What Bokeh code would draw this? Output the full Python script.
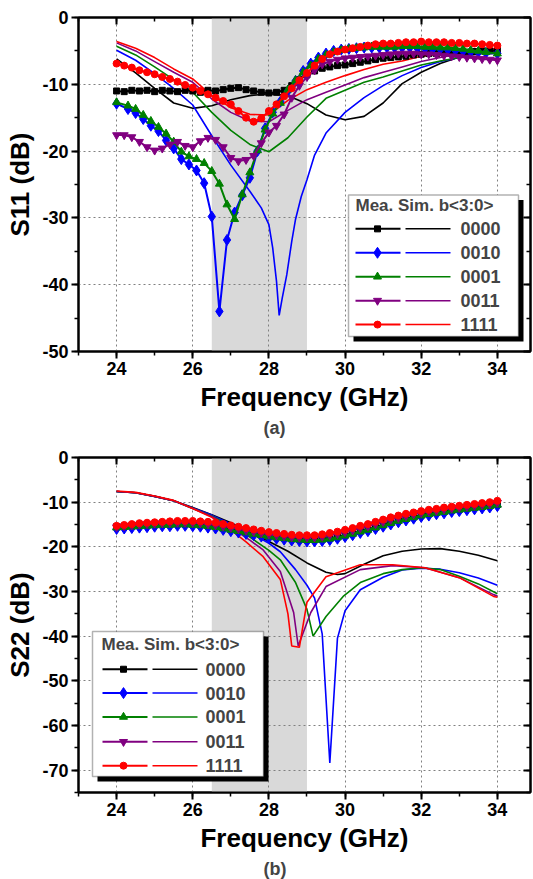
import numpy as np
from bokeh.plotting import figure
from bokeh.models import (LinearAxis, SingleIntervalTicker, BoxAnnotation, Label,
                          Title, Range1d, NumeralTickFormatter)
from bokeh.layouts import column
from bokeh.embed import file_html
from bokeh.resources import INLINE

FONT = "Liberation Sans"

# ---------------- data ----------------
CODES = ["0000", "0010", "0001", "0011", "1111"]

F_MEAS = [round(24.0 + 0.2 * i, 1) for i in range(51)]
F_ODD = [24.0] + [round(24.3 + 0.2 * i, 1) for i in range(48)] + [34.0]

# S11 measured
S11_MEAS_0000 = [-11.0, -11.1, -10.9, -11.0, -10.9, -11.1, -10.9, -11.0, -11.1, -10.9,
                 -11.0, -11.2, -10.9, -11.0, -10.8, -10.6, -10.5, -10.8, -11.0, -11.2,
                 -11.3, -11.2, -10.9, -10.2, -9.3, -8.6, -8.0, -7.6, -7.4, -7.2,
                 -7.1, -6.9, -6.7, -6.5, -6.3, -6.1, -6.0, -5.9, -5.8, -5.6,
                 -5.5, -5.4, -5.4, -5.3, -5.3, -5.2, -5.2, -5.1, -5.0, -5.0,
                 -4.9]
S11_MEAS_0010 = [-12.9,
                 -13.7, -14.3, -15.2, -16.2, -17.0, -18.4, -19.6, -21.2, -22.0, -22.9,
                 -24.8, -29.8, -44.0, -33.3, -29.2, -26.6, -24.0, -20.0, -16.6, -14.2,
                 -12.6, -11.0, -9.5, -8.0, -6.9, -6.0, -5.4, -5.0, -4.8, -4.7,
                 -4.6, -4.5, -4.5, -4.5, -4.5, -4.5, -4.5, -4.5, -4.6, -4.6,
                 -4.7, -4.7, -4.8, -4.9, -5.0, -5.1, -5.2, -5.3,
                 -5.4]
S11_MEAS_0001 = [-12.7,
                 -13.2, -13.7, -14.6, -15.5, -16.4, -17.4, -18.6, -20.1, -20.8, -21.2,
                 -21.8, -23.0, -24.9, -28.0, -30.2, -26.5, -23.2, -19.9, -16.8, -14.4,
                 -12.8, -10.8, -9.4, -8.2, -7.2, -6.2, -5.6, -5.2, -4.9, -4.7,
                 -4.6, -4.5, -4.4, -4.4, -4.4, -4.4, -4.3, -4.3, -4.3, -4.4,
                 -4.4, -4.5, -4.5, -4.6, -4.7, -4.9, -5.0, -5.2,
                 -5.4]
S11_MEAS_0011 = [-17.6, -17.6, -17.9, -18.6, -19.4, -19.9, -19.6, -19.0, -18.6, -19.2,
                 -19.4, -18.5, -18.0, -18.3, -19.4, -21.0, -21.5, -21.3, -20.7, -18.8,
                 -17.2, -16.2, -14.5, -12.0, -10.2, -8.9, -7.9, -7.0, -6.6, -6.3,
                 -6.1, -6.0, -5.9, -5.8, -5.7, -5.6, -5.5, -5.4, -5.4, -5.4,
                 -5.5, -5.5, -5.6, -5.7, -5.8, -5.9, -6.0, -6.1, -6.2, -6.3,
                 -6.4]
S11_MEAS_1111 = [-6.9, -7.2, -7.5, -7.9, -8.2, -8.5, -8.9, -9.2, -9.6, -10.1,
                 -10.5, -11.0, -11.5, -12.0, -12.5, -13.0, -14.0, -15.0, -15.6, -15.1,
                 -14.0, -13.0, -11.8, -10.6, -9.4, -8.3, -7.2, -6.2, -5.5, -5.1,
                 -4.8, -4.6, -4.4, -4.2, -4.0, -3.9, -3.9, -3.8, -3.7, -3.7,
                 -3.6, -3.7, -3.7, -3.7, -3.8, -3.8, -3.9, -3.9, -4.0, -4.1,
                 -4.2]

# S11 simulated
F_SIM = [24, 24.5, 25, 25.5, 26, 26.5, 27, 27.5, 28, 28.5, 29, 29.5, 30, 30.5,
         31, 31.5, 32, 32.5, 33, 33.5, 34]
S11_SIM_0000 = [-6.2, -8.3, -10.6, -12.8, -13.6, -13.2, -12.3, -11.7, -11.4, -11.7,
                -12.9, -14.6, -15.3, -14.8, -12.8, -9.9, -8.2, -6.9, -5.9, -5.3, -4.8]
F_SIM_0010 = [24, 24.5, 25, 25.5, 26, 26.5, 27, 27.5, 27.8, 28.0, 28.1, 28.2, 28.27,
              28.35, 28.47, 28.6, 28.7, 28.85, 29.0, 29.2, 29.5, 30, 30.5, 31, 31.5,
              32, 32.5, 33, 33.5, 34]
S11_SIM_0010 = [-4.9, -6.4, -8.4, -10.6, -13.1, -17.7, -22.1, -26.0, -28.5, -31.0,
                -34.5, -39.5, -44.6, -42.0, -38.5, -33.5, -30.2, -26.8, -24.3, -20.6,
                -17.3, -14.2, -12.0, -10.2, -8.7, -7.5, -6.6, -6.0, -5.4, -4.9]
S11_SIM_0001 = [-4.3, -5.6, -7.4, -9.3, -11.2, -14.2, -16.9, -19.0, -20.1, -18.0,
                -14.9, -12.1, -10.9, -9.7, -8.9, -8.0, -7.1, -6.5, -6.0, -5.4, -4.8]
S11_SIM_0011 = [-3.8, -5.0, -6.6, -8.2, -9.7, -12.2, -14.2, -15.5, -15.6, -13.9,
                -12.3, -11.2, -10.1, -9.0, -8.2, -7.4, -6.6, -6.0, -5.4, -5.0, -4.7]
S11_SIM_1111 = [-3.6, -4.6, -6.0, -7.7, -9.2, -11.7, -13.5, -14.5, -14.6, -12.4,
                -10.8, -9.7, -8.7, -7.8, -7.0, -6.5, -5.8, -5.5, -5.2, -4.9, -4.6]

# S22 measured
S22_MEAS_0000 = [-15.5, -15.4, -15.3, -15.2, -15.1, -15.0, -15.0, -14.9, -14.9, -14.9,
                 -15.0, -15.1, -15.3, -15.5, -15.8, -16.1, -16.4, -16.7, -17.0, -17.3,
                 -17.6, -17.8, -18.0, -18.2, -18.3, -18.4, -18.4, -18.3, -18.1, -17.8,
                 -17.4, -17.0, -16.5, -16.1, -15.6, -15.1, -14.6, -14.1, -13.7, -13.3,
                 -12.9, -12.6, -12.3, -12.1, -11.8, -11.6, -11.4, -11.2, -11.0, -10.8,
                 -10.5]
S22_MEAS_0010 = [-16.0, -15.9, -15.8, -15.7, -15.6, -15.5, -15.4, -15.4, -15.3, -15.3,
                 -15.4, -15.5, -15.7, -15.9, -16.2, -16.5, -16.8, -17.1, -17.4, -17.7,
                 -18.0, -18.2, -18.4, -18.6, -18.7, -18.8, -18.8, -18.7, -18.5, -18.2,
                 -17.8, -17.4, -16.9, -16.5, -16.0, -15.5, -15.0, -14.5, -14.1, -13.7,
                 -13.3, -13.0, -12.7, -12.5, -12.2, -12.0, -11.8, -11.6, -11.4, -11.2,
                 -10.9]
S22_MEAS_0001 = [-15.7, -15.6, -15.5, -15.4, -15.3, -15.2, -15.1, -15.1, -15.0, -15.0,
                 -15.1, -15.2, -15.4, -15.6, -15.9, -16.2, -16.5, -16.8, -17.1, -17.4,
                 -17.7, -17.9, -18.1, -18.3, -18.4, -18.5, -18.5, -18.4, -18.2, -17.9,
                 -17.5, -17.1, -16.6, -16.2, -15.7, -15.2, -14.7, -14.2, -13.8, -13.4,
                 -13.0, -12.7, -12.4, -12.2, -11.9, -11.7, -11.5, -11.3, -11.1, -10.9,
                 -10.6]
S22_MEAS_0011 = [-15.6, -15.4, -15.2, -15.0, -14.9, -14.8, -14.7, -14.6, -14.6, -14.6,
                 -14.6, -14.7, -14.9, -15.1, -15.4, -15.7, -16.0, -16.3, -16.6, -16.9,
                 -17.2, -17.4, -17.6, -17.8, -17.9, -17.9, -17.9, -17.7, -17.4, -17.1,
                 -16.7, -16.3, -15.8, -15.4, -14.9, -14.4, -13.9, -13.5, -13.1, -12.7,
                 -12.4, -12.1, -11.9, -11.6, -11.4, -11.2, -11.0, -10.8, -10.6, -10.4,
                 -10.1]
S22_MEAS_1111 = [-15.3, -15.1, -14.9, -14.7, -14.6, -14.5, -14.4, -14.3, -14.2, -14.2,
                 -14.2, -14.3, -14.4, -14.6, -14.9, -15.2, -15.5, -15.8, -16.1, -16.4,
                 -16.7, -16.9, -17.1, -17.3, -17.4, -17.4, -17.4, -17.2, -16.9, -16.6,
                 -16.2, -15.8, -15.3, -14.9, -14.4, -13.9, -13.4, -13.0, -12.6, -12.3,
                 -12.0, -11.7, -11.5, -11.2, -11.0, -10.8, -10.6, -10.4, -10.2, -10.0,
                 -9.7]

# S22 simulated
F22_SIM_0000 = [24, 24.5, 25, 25.5, 26, 26.5, 27, 27.5, 28, 28.5, 29, 29.5, 29.8, 30,
                30.5, 31, 31.5, 32, 32.5, 33, 33.5, 34]
S22_SIM_0000 = [-7.6, -7.9, -8.7, -9.7, -11.2, -12.8, -14.6, -16.6, -18.8, -21.0,
                -23.6, -25.7, -26.2, -26.0, -23.9, -22.0, -21.0, -20.5, -20.4, -21.0,
                -21.9, -23.1]
F22_SIM_0010 = [24, 24.5, 25, 25.5, 26, 26.5, 27, 27.5, 28, 28.3, 28.7, 29.0, 29.2,
                29.4, 29.6, 29.8, 30.0, 30.4, 31, 31.5, 32, 32.5, 33, 33.5, 34]
S22_SIM_0010 = [-7.6, -7.9, -8.7, -9.7, -11.3, -12.9, -14.9, -16.8, -19.2, -21.1,
                -25.1, -28.6, -31.5, -39.5, -68.4, -40.5, -34.3, -29.6, -26.8, -25.2,
                -24.8, -25.0, -25.8, -27.0, -28.6]
F22_SIM_0001 = [24, 24.5, 25, 25.5, 26, 26.5, 27, 27.5, 28, 28.3, 28.7, 29.0, 29.16,
                29.5, 29.95, 30.4, 31, 31.5, 32, 32.5, 33, 33.5, 34]
S22_SIM_0001 = [-7.6, -7.9, -8.7, -9.7, -11.4, -13.1, -15.3, -17.8, -20.8, -22.9,
                -28.0, -34.0, -40.0, -35.6, -31.1, -28.0, -26.0, -25.1, -24.7, -25.1,
                -26.6, -28.3, -30.5]
F22_SIM_0011 = [24, 24.5, 25, 25.5, 26, 26.5, 27, 27.5, 27.85, 28.3, 28.65, 28.77,
                29.1, 29.5, 30.4, 31.25, 32.1, 33, 33.9, 34]
S22_SIM_0011 = [-7.6, -7.9, -8.7, -9.7, -11.4, -13.2, -15.7, -18.5, -20.7, -25.5,
                -34.7, -42.2, -34.7, -28.9, -25.1, -24.2, -24.7, -26.9, -30.7, -31.0]
F22_SIM_1111 = [24, 24.5, 25, 25.5, 26, 26.5, 27, 27.4, 27.85, 28.3, 28.5, 28.6,
                28.8, 29.0, 29.5, 30.4, 31.25, 32.1, 33, 33.9, 34]
S22_SIM_1111 = [-7.5, -7.8, -8.6, -9.6, -11.4, -13.4, -16.2, -18.9, -22.2, -27.3,
                -35.0, -42.2, -42.5, -32.4, -26.7, -24.0, -24.0, -24.7, -26.9, -31.1,
                -31.3]

X_TICK_STEP = 2
Y_TICK_STEP = 10
SHADE = (26.5, 29.0)

COLORS = {"0000": "#000000", "0010": "#0000ff", "0001": "#008000",
          "0011": "#800080", "1111": "#ff0000"}
MARKERS = {"0000": ("square", 6), "0010": ("diamond", 11), "0001": ("triangle", 8),
           "0011": ("inverted_triangle", 8), "1111": ("circle", 7)}

X0, X1 = 23.0, 34.87
W = 533
FRAME_L, FRAME_W = 78, 452   # page-pixel geometry of the frames


def style_axis(ax, ticker, labels=True, outward=True):
    ax.ticker = ticker
    ax.axis_line_width = 2
    ax.axis_line_color = "black"
    ax.major_tick_line_width = 2
    ax.minor_tick_line_width = 1.5
    if outward:
        ax.major_tick_out, ax.major_tick_in = 7, 0
        ax.minor_tick_out, ax.minor_tick_in = 4, 0
    else:
        ax.major_tick_out, ax.major_tick_in = 0, 7
        ax.minor_tick_out, ax.minor_tick_in = 0, 4
    ax.major_label_text_font = FONT
    ax.major_label_text_font_style = "bold"
    ax.formatter = NumeralTickFormatter(format="0")
    if labels:
        ax.major_label_text_color = "black"
        ax.major_label_text_font_size = "18px"
        ax.major_label_standoff = 3
    else:
        ax.major_label_text_color = None
        ax.major_label_text_alpha = 0
        ax.major_label_text_font_size = "2px"
        ax.major_label_standoff = 0


def make_fig(height, top_b, bot_b, ymin, ymax, ylabel, caption):
    p = figure(width=W, height=height, x_range=Range1d(X0, X1), y_range=Range1d(ymin, ymax),
               output_backend="svg", toolbar_location=None,
               min_border_left=FRAME_L, min_border_right=W - FRAME_L - FRAME_W,
               min_border_top=top_b, min_border_bottom=bot_b,
               background_fill_color="white", border_fill_color="white")
    p.outline_line_color = "black"
    p.outline_line_width = 2
    xt = SingleIntervalTicker(interval=X_TICK_STEP, num_minor_ticks=2)
    yt = SingleIntervalTicker(interval=Y_TICK_STEP, num_minor_ticks=2)
    style_axis(p.xaxis[0], xt)
    style_axis(p.yaxis[0], yt)
    p.xaxis[0].axis_label = "Frequency (GHz)"
    p.yaxis[0].axis_label = ylabel
    for ax in (p.xaxis[0], p.yaxis[0]):
        ax.axis_label_text_font = FONT
        ax.axis_label_text_font_style = "bold"
        ax.axis_label_text_font_size = "26px"
        ax.axis_label_text_color = "black"
        ax.axis_label_standoff = 4
    top = LinearAxis()
    style_axis(top, xt, labels=False, outward=False)
    p.add_layout(top, "above")
    right = LinearAxis()
    style_axis(right, yt, labels=False, outward=False)
    p.add_layout(right, "right")
    p.xgrid.ticker = xt
    p.ygrid.ticker = yt
    for g in (p.xgrid, p.ygrid):
        g.grid_line_color = "#808080"
        g.grid_line_dash = "2 3"
        g.grid_line_width = 1
    p.add_layout(BoxAnnotation(left=SHADE[0], right=SHADE[1], fill_color="#d9d9d9",
                               fill_alpha=1.0, line_alpha=0, level="image"))
    p.add_layout(Title(text=caption, align="left", offset=185, text_font=FONT,
                       text_font_size="18px", text_font_style="bold", standoff=2),
                 "below")
    return p


def add_legend(p, fx, fy, L, R, T, B, header, hx, hy, rows, mseg, mmark, sseg, tx):
    p.add_layout(BoxAnnotation(left=fx(L + 5), right=fx(R + 5), top=fy(T + 5),
                               bottom=fy(B + 5), fill_color="black", fill_alpha=1,
                               line_alpha=0, level="annotation"))
    p.add_layout(BoxAnnotation(left=fx(L), right=fx(R), top=fy(T), bottom=fy(B),
                               fill_color="white", fill_alpha=1, line_color="black",
                               line_width=1.5, level="annotation"))
    p.add_layout(Label(x=fx(hx), y=fy(hy), text=header, text_font=FONT,
                       text_font_size="17px", text_font_style="bold",
                       text_baseline="middle", text_align="left"))
    for code, ry in zip(CODES, rows):
        c = COLORS[code]
        mk, ms = MARKERS[code]
        p.line([fx(mseg[0]), fx(mseg[1])], [fy(ry), fy(ry)], line_color=c,
               line_width=2, level="overlay")
        p.scatter([fx(mmark)], [fy(ry)], marker=mk, size=ms, color=c, level="overlay")
        p.line([fx(sseg[0]), fx(sseg[1])], [fy(ry), fy(ry)], line_color=c,
               line_width=1.5, level="overlay")
        p.add_layout(Label(x=fx(tx), y=fy(ry), text=code, text_font=FONT,
                           text_font_size="18px", text_font_style="bold",
                           text_baseline="middle", text_align="left"))


def draw_series(p, meas, sims):
    for code in CODES:
        fs, vs = sims[code]
        p.line(fs, vs, line_color=COLORS[code], line_width=1.6)
    for code in CODES:
        fm, vm = meas[code]
        mk, ms = MARKERS[code]
        p.line(fm, vm, line_color=COLORS[code], line_width=2)
        p.scatter(fm, vm, marker=mk, size=ms, color=COLORS[code])


def fx(px):
    return X0 + (px - FRAME_L) * (X1 - X0) / FRAME_W


def fy1(py):
    return 0 - (py - 17) * 50.0 / 335


def fy2(py):
    return 0 - (py - 457) * 75.0 / 337


# ---------------- top chart: S11 ----------------
p1 = make_fig(438, 17, 86, -50, 0, "S11 (dB)", "(a)")
draw_series(p1,
            {"0000": (F_MEAS, S11_MEAS_0000), "0010": (F_ODD, S11_MEAS_0010),
             "0001": (F_ODD, S11_MEAS_0001), "0011": (F_MEAS, S11_MEAS_0011),
             "1111": (F_MEAS, S11_MEAS_1111)},
            {"0000": (F_SIM, S11_SIM_0000), "0010": (F_SIM_0010, S11_SIM_0010),
             "0001": (F_SIM, S11_SIM_0001), "0011": (F_SIM, S11_SIM_0011),
             "1111": (F_SIM, S11_SIM_1111)})
add_legend(p1, fx, fy1, 348, 518, 195, 337, "Mea. Sim.  b<3:0>", 355, 206,
           [229, 253, 277, 301, 325], (355, 400), 377, (405, 450), 460)

# ---------------- bottom chart: S22 ----------------
p2 = make_fig(441, 19, 85, -75, 0, "S22 (dB)", "(b)")
draw_series(p2,
            {"0000": (F_MEAS, S22_MEAS_0000), "0010": (F_MEAS, S22_MEAS_0010),
             "0001": (F_MEAS, S22_MEAS_0001), "0011": (F_MEAS, S22_MEAS_0011),
             "1111": (F_MEAS, S22_MEAS_1111)},
            {"0000": (F22_SIM_0000, S22_SIM_0000), "0010": (F22_SIM_0010, S22_SIM_0010),
             "0001": (F22_SIM_0001, S22_SIM_0001), "0011": (F22_SIM_0011, S22_SIM_0011),
             "1111": (F22_SIM_1111, S22_SIM_1111)})
add_legend(p2, fx, fy2, 92, 263, 632, 778, "Mea. Sim. b<3:0>", 101, 645,
           [670, 694, 718, 743, 767], (102, 147), 123, (152, 197), 205)

layout = column(p1, p2, spacing=0)
open("out.html", "w").write(file_html(layout, INLINE))
